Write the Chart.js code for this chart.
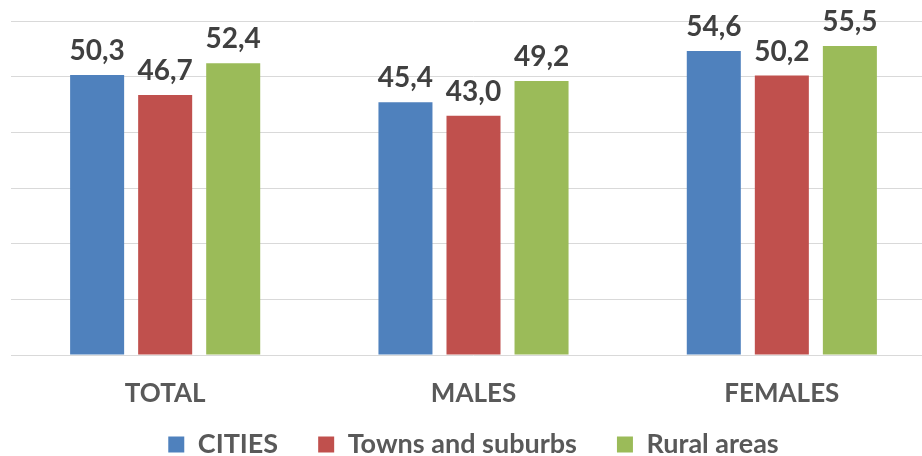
<!DOCTYPE html>
<html>
<head>
<meta charset="utf-8">
<script src="https://cdn.jsdelivr.net/npm/chart.js@4.4.0/dist/chart.umd.min.js"></script>
<style>
  html, body { margin: 0; padding: 0; background: #fff; overflow: hidden; }
  #wrap { width: 936px; height: 456px; }
</style>
</head>
<body>
<div id="wrap"><canvas id="barChart" width="936" height="456"></canvas></div>
<script>
// chart values
var categories = ['TOTAL', 'MALES', 'FEMALES'];
var cities = [50.3, 45.4, 54.6];
var towns = [46.7, 43.0, 50.2];
var rural = [52.4, 49.2, 55.5];
var seriesNames = ['CITIES', 'Towns and suburbs', 'Rural areas'];

var FONT = 'Lato, "Open Sans", sans-serif';

// draws the value above each bar, with a decimal comma
var valueLabels = {
    id: 'valueLabels',
    afterDatasetsDraw: function (chart) {
        var ctx = chart.ctx;
        ctx.save();
        ctx.font = 'bold 28px ' + FONT;
        ctx.fillStyle = '#404040';
        ctx.textAlign = 'center';
        ctx.textBaseline = 'alphabetic';
        chart.data.datasets.forEach(function (ds, i) {
            var meta = chart.getDatasetMeta(i);
            meta.data.forEach(function (bar, j) {
                var txt = ds.data[j].toFixed(1).replace('.', ',');
                ctx.fillText(txt, bar.x, bar.y - 15);
            });
        });
        ctx.restore();
    }
};

// legend padding also spaces the items apart, so pull the legend row up a bit
var legendShift = {
    id: 'legendShift',
    afterLayout: function (chart) {
        chart.legend.top -= 20;
        chart.legend.bottom -= 20;
    }
};

var ctx = document.getElementById('barChart');
new Chart(ctx, {
    type: 'bar',
    data: {
        labels: categories,
        datasets: [
            { label: seriesNames[0], data: cities, backgroundColor: '#4F81BD' },
            { label: seriesNames[1], data: towns, backgroundColor: '#C0504D' },
            { label: seriesNames[2], data: rural, backgroundColor: '#9BBB59' }
        ]
    },
    options: {
        responsive: false,
        animation: false,
        layout: { padding: { top: 21, left: 11, right: 0, bottom: -32 } },
        datasets: {
            bar: { categoryPercentage: 0.662, barPercentage: 0.794 }
        },
        scales: {
            x: {
                grid: { display: false },
                border: { display: false },
                ticks: {
                    color: '#595959',
                    font: { family: FONT, size: 26, weight: 'bold' },
                    padding: 15
                },
                afterFit: function (scale) {
                    scale.height = 56;
                }
            },
            y: {
                min: 0,
                max: 60,
                ticks: { display: false, stepSize: 10 },
                grid: { color: '#D9D9D9', lineWidth: 1, drawTicks: false },
                border: { display: false }
            }
        },
        plugins: {
            legend: {
                position: 'bottom',
                labels: {
                    color: '#595959',
                    font: { family: FONT, size: 27, weight: 'bold' },
                    boxWidth: 16,
                    boxHeight: 16,
                    padding: 40
                }
            },
            tooltip: { enabled: false }
        }
    },
    plugins: [valueLabels, legendShift]
});
</script>
</body>
</html>
